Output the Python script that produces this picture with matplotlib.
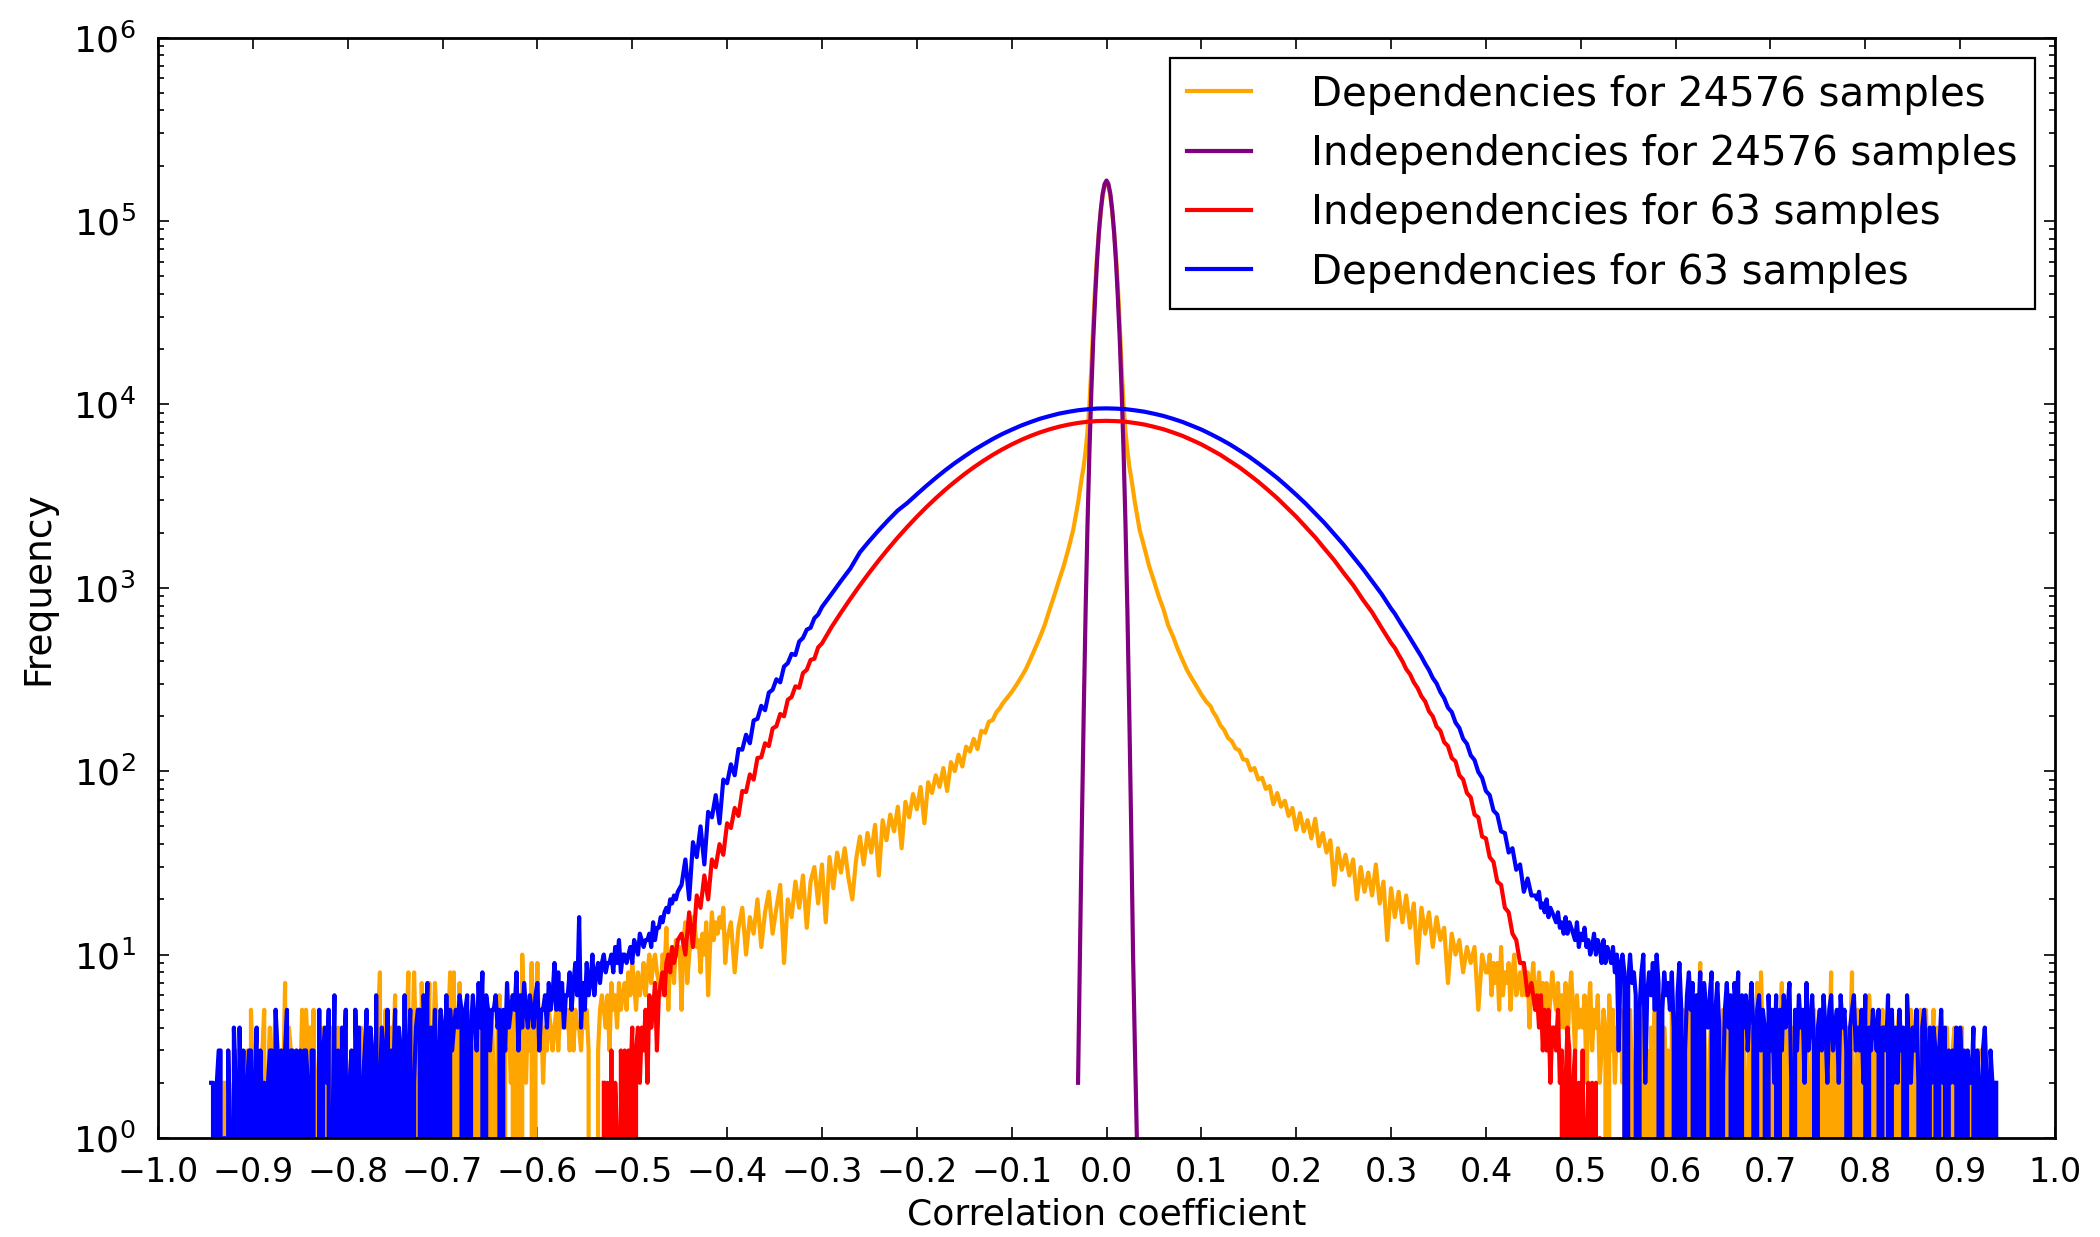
import numpy as np
import matplotlib
matplotlib.use("Agg")
import matplotlib.pyplot as plt
from matplotlib.ticker import FixedLocator, NullLocator, NullFormatter, LogFormatterMathtext

# ---------------- data (histogram counts) ----------------
labels = ["Dependencies for 24576 samples", "Independencies for 24576 samples",
          "Independencies for 63 samples", "Dependencies for 63 samples"]
colors = ["orange", "purple", "red", "blue"]

# Independencies, 24576 samples (bins from -0.030, width 0.002)
purple_start, purple_step = -0.030, 0.002
purple_counts = [2, 10, 50, 209, 760, 2240, 5500, 11700, 22400, 38000, 60000, 87000, 115000,
                 141000, 159000, 166000, 159000, 141000, 115000, 87000, 60000, 38000, 22400,
                 11700, 5500, 2240, 760, 209, 50, 10, 3, 1]

# Dependencies, 24576 samples
orange_tail_left_start, orange_tail_left_step = -0.930, 0.002
orange_tail_left = ("2030120302" "0230520230" "3502403520" "3270430230" "2505340502"
                    "3042303402" "4023502305" "3042034203" "2480352043" "6033024803"
                    "8350734270" "3740530348" "3804724053" "4035305240" "3520463053"
                    "4260530a42" "5390493524" "3543453546" "4536354435" "4530000356"
                    "5463756475" "6758697586" "7968a79a87" "6a8e5ab7ca" "b5cf7acgeb"
                    "c8daf6bhcf" "dgei9")
orange_mid_left_start, orange_mid_left_step = -0.400, 0.004
orange_mid_left = [12, 15, 8, 14, 18, 10, 16, 13, 20, 11, 17, 22, 13, 18, 24, 9, 20, 16, 25, 18,
                   27, 14, 25, 30, 19, 31, 15, 34, 23, 36, 28, 38, 26, 20, 33, 44, 31, 46, 36, 51,
                   27, 54, 42, 58, 47, 64, 38, 68, 56, 75, 62, 82, 52, 87, 76, 95, 82, 104, 78,
                   112, 100, 123, 106, 136, 128, 150, 132, 166, 162, 186, 190, 210, 222]
orange_shoulder_left_start, orange_shoulder_left_step = -0.110, 0.005
orange_shoulder_left = [232, 250, 270, 295, 325, 360, 410, 470, 540, 630, 760, 910, 1100, 1320,
                        1640, 2080]
orange_peak_start, orange_peak_step = -0.030, 0.002
orange_peak = [2900, 3400, 4000, 4600, 5600, 7100, 9800, 15800, 26900, 43600, 64500, 87000,
               112000, 138000, 155000, 162000, 155000, 138000, 112000, 87000, 64500, 43600,
               26900, 15800, 9800, 7100, 5600, 4600, 4000, 3400, 2900]
orange_shoulder_right_start, orange_shoulder_right_step = 0.035, 0.005
orange_shoulder_right = [2060, 1650, 1310, 1090, 900, 765, 625, 545, 465, 405, 355, 320, 290,
                         262, 240, 225]
orange_mid_right_start, orange_mid_right_step = 0.112, 0.004
orange_mid_right = [212, 197, 178, 168, 152, 146, 133, 130, 116, 115, 101, 104, 90, 92, 80, 83,
                    66, 76, 64, 69, 57, 63, 48, 59, 47, 54, 43, 55, 39, 46, 36, 42, 24, 38, 29,
                    35, 27, 33, 20, 30, 22, 28, 21, 31, 19, 25, 12, 23, 16, 22, 15, 21, 14, 19,
                    9, 18, 13, 17, 11, 16, 12, 14, 7, 13, 10, 12, 8, 11, 9, 11, 5, 10, 8]
orange_tail_right_start, orange_tail_right_step = 0.402, 0.002
orange_tail_right = ("8a69795b68" "7958a67869" "6847956857" "5746865746" "4736853645"
                     "4625735462" "3540635243" "5230452034" "4052304250" "3604230523"
                     "0425305240" "3590420352" "4023503420" "3402530240" "3270832042"
                     "5034270350" "2430520342" "0352403520" "3804203520" "4380250342"
                     "0630420352" "4052304520" "3205420350" "4520350420" "3042034203"
                     "4030203023")

# Independencies, 63 samples
red_tail_left_start, red_tail_left_step = -0.530, 0.002
red_tail_left = "2020302103" "2303240342" "4352645736" "7869a8b9ac"
red_mid_left_start, red_mid_left_step = -0.448, 0.004
red_mid_left = [13, 10, 17, 11, 21, 18, 27, 20, 33, 30, 40, 35, 52, 49, 63, 57, 78, 77, 96, 90,
                118, 119, 142, 137, 171, 176, 205, 199, 245, 254, 290, 285, 343, 357, 404, 410,
                473, 497]
red_core_start, red_core_step = -0.29, 0.01
red_core = [609, 731, 871, 1031, 1211, 1412, 1635, 1881, 2148, 2437, 2747, 3076, 3423, 3782,
            4155, 4534, 4916, 5300, 5676, 6043, 6396, 6728, 7034, 7309, 7552, 7755, 7916, 8034,
            8106, 8130, 8100, 8040, 7910, 7760, 7545, 7315, 7030, 6735, 6390, 6050, 5670, 5305,
            4910, 4540, 4150, 3785, 3420, 3080, 2740, 2440, 2145, 1885, 1630, 1415, 1205, 1035,
            865, 735, 605]
red_mid_right_start, red_mid_right_step = 0.300, 0.004
red_mid_right = [500, 470, 431, 398, 360, 338, 305, 284, 256, 240, 212, 199, 175, 166, 144, 137,
                 118, 113, 95, 90, 76, 72, 58, 56, 44, 43, 34, 32, 25, 24, 18, 17, 13, 12, 9, 9,
                 6, 7]
red_tail_right_start, red_tail_right_step = 0.452, 0.002
red_tail_right = "5646353524" "4352302430" "2302030120" "202010"

# Dependencies, 63 samples
blue_tail_left_start, blue_tail_left_step = -0.944, 0.002
blue_tail_left = ("2202330103" "1042041302" "3302403120" "2330530313" "5033031303"
                  "3203300503" "4250160304" "3502305240" "2350430602" "4305032504"
                  "3060350245" "5063704250" "3540605345" "4650560464" "3748065355"
                  "6450537456" "5836475465" "4673556475" "6958574668" "5796g47596"
                  "7a68979a89" "9a8b9c8aa9" "ab9cbadcbc" "cdbfceegfh" "ihkjlkm")
blue_mid_left_start, blue_mid_left_step = -0.448, 0.004
blue_mid_left = [24, 33, 20, 41, 34, 50, 31, 60, 56, 74, 52, 90, 86, 109, 95, 132, 131, 158, 142,
                 189, 193, 227, 215, 268, 278, 317, 305, 372, 388, 436, 430, 509, 533, 591, 605,
                 682, 715, 785]
blue_core_start, blue_core_step = -0.29, 0.01
blue_core = [923, 1088, 1274, 1560, 1800, 2060, 2340, 2640, 2900, 3230, 3590, 3970, 4370, 4780,
             5190, 5625, 6040, 6470, 6885, 7270, 7660, 8010, 8350, 8630, 8900, 9105, 9285, 9400,
             9485, 9506, 9475, 9410, 9275, 9115, 8890, 8645, 8340, 8020, 7650, 7285, 6875, 6465,
             6050, 5615, 5200, 4770, 4360, 3970, 3580, 3215, 2875, 2545, 2250, 1965, 1715, 1480,
             1275, 1085, 925]
blue_mid_right_start, blue_mid_right_step = 0.300, 0.004
blue_mid_right = [770, 722, 668, 618, 575, 532, 491, 455, 421, 385, 356, 322, 301, 270, 250, 222,
                  210, 184, 172, 150, 141, 122, 115, 99, 92, 78, 74, 61, 58, 47, 46, 36, 38, 29,
                  31, 22, 26, 21]
blue_tail_right_start, blue_tail_right_step = 0.452, 0.002
blue_tail_right = ("lkmijhkgih" "gfhefdgdfe" "dcfbdcebca" "bdacb9c9ba" "9b8a39a807"
                   "a786058a26" "8695a70586" "7584069503" "6857064807" "5468057402"
                   "5746075806" "4635740563" "5406352605" "3645720536" "4527346304"
                   "5364256345" "2645304563" "4352604354" "3504436052" "4253406324"
                   "3520453042" "4303524032" "3240423032" "2403203420" "3202")

x_ticks = [round(-1.0 + 0.1 * i, 1) for i in range(21)]
y_ticks = [1, 10, 100, 1000, 10000, 100000, 1000000]
y_minor_ticks = [m * 10 ** e for e in range(6) for m in range(2, 10)]


# ---------------- helpers ----------------
def decode(v):
    if isinstance(v, str):
        return [int(c, 36) for c in v]
    return list(v)


def series(*segs):
    xs, ys = [], []
    for start, step, vals in segs:
        vals = decode(vals)
        xs.append(start + step * np.arange(len(vals)))
        ys.append(np.asarray(vals, dtype=float))
    return np.concatenate(xs), np.concatenate(ys)


orange = series((orange_tail_left_start, orange_tail_left_step, orange_tail_left),
                (orange_mid_left_start, orange_mid_left_step, orange_mid_left),
                (orange_shoulder_left_start, orange_shoulder_left_step, orange_shoulder_left),
                (orange_peak_start, orange_peak_step, orange_peak),
                (orange_shoulder_right_start, orange_shoulder_right_step, orange_shoulder_right),
                (orange_mid_right_start, orange_mid_right_step, orange_mid_right),
                (orange_tail_right_start, orange_tail_right_step, orange_tail_right))
purple = series((purple_start, purple_step, purple_counts))
red = series((red_tail_left_start, red_tail_left_step, red_tail_left),
             (red_mid_left_start, red_mid_left_step, red_mid_left),
             (red_core_start, red_core_step, red_core),
             (red_mid_right_start, red_mid_right_step, red_mid_right),
             (red_tail_right_start, red_tail_right_step, red_tail_right))
blue = series((blue_tail_left_start, blue_tail_left_step, blue_tail_left),
              (blue_mid_left_start, blue_mid_left_step, blue_mid_left),
              (blue_core_start, blue_core_step, blue_core),
              (blue_mid_right_start, blue_mid_right_step, blue_mid_right),
              (blue_tail_right_start, blue_tail_right_step, blue_tail_right))

# ---------------- plot ----------------
plt.rcParams['font.family'] = ['DejaVu Sans']
plt.rcParams['mathtext.fontset'] = 'dejavusans'

fig = plt.figure(figsize=(10.5, 6.185), dpi=200, facecolor='white')
ax = fig.add_axes([158 / 2100, 1 - 1138 / 1237, (2055 - 158) / 2100, (1138 - 37.5) / 1237])

for (x, y), c, lab in zip([orange, purple, red, blue], colors, labels):
    ax.plot(x, y, color=c, lw=1.5, label=lab)

ax.set_yscale('log', nonpositive='clip')
ax.set_xlim(-1.0, 1.0)
ax.set_ylim(1, 1e6)
ax.set_xticks(x_ticks)
ax.xaxis.set_minor_locator(NullLocator())
ax.yaxis.set_major_locator(FixedLocator(y_ticks))
ax.yaxis.set_major_formatter(LogFormatterMathtext())
ax.yaxis.set_minor_locator(FixedLocator(y_minor_ticks))
ax.yaxis.set_minor_formatter(NullFormatter())

ax.tick_params(which='both', direction='in', top=True, right=True, colors='black')
ax.tick_params(which='major', length=4, width=0.6)
ax.tick_params(which='minor', length=2.3, width=0.6)
ax.tick_params(axis='x', labelsize=12, pad=6.5)
ax.tick_params(axis='y', labelsize=13, pad=8)
for sp in ax.spines.values():
    sp.set_linewidth(1.0)

ax.set_xlabel('Correlation coefficient', fontsize=13, labelpad=3)
ax.set_ylabel('Frequency', fontsize=13.5, labelpad=6)

leg = ax.legend(loc='upper right', fontsize=14.5, borderpad=0.42, labelspacing=0.48,
                handlelength=1.6, handletextpad=1.5, borderaxespad=0.5,
                fancybox=False, framealpha=1.0, edgecolor='black', shadow=False)
leg.get_frame().set_linewidth(0.8)
for ln in leg.get_lines():
    ln.set_linewidth(1.5)

fig.savefig('out.png', dpi=200, facecolor='white')
